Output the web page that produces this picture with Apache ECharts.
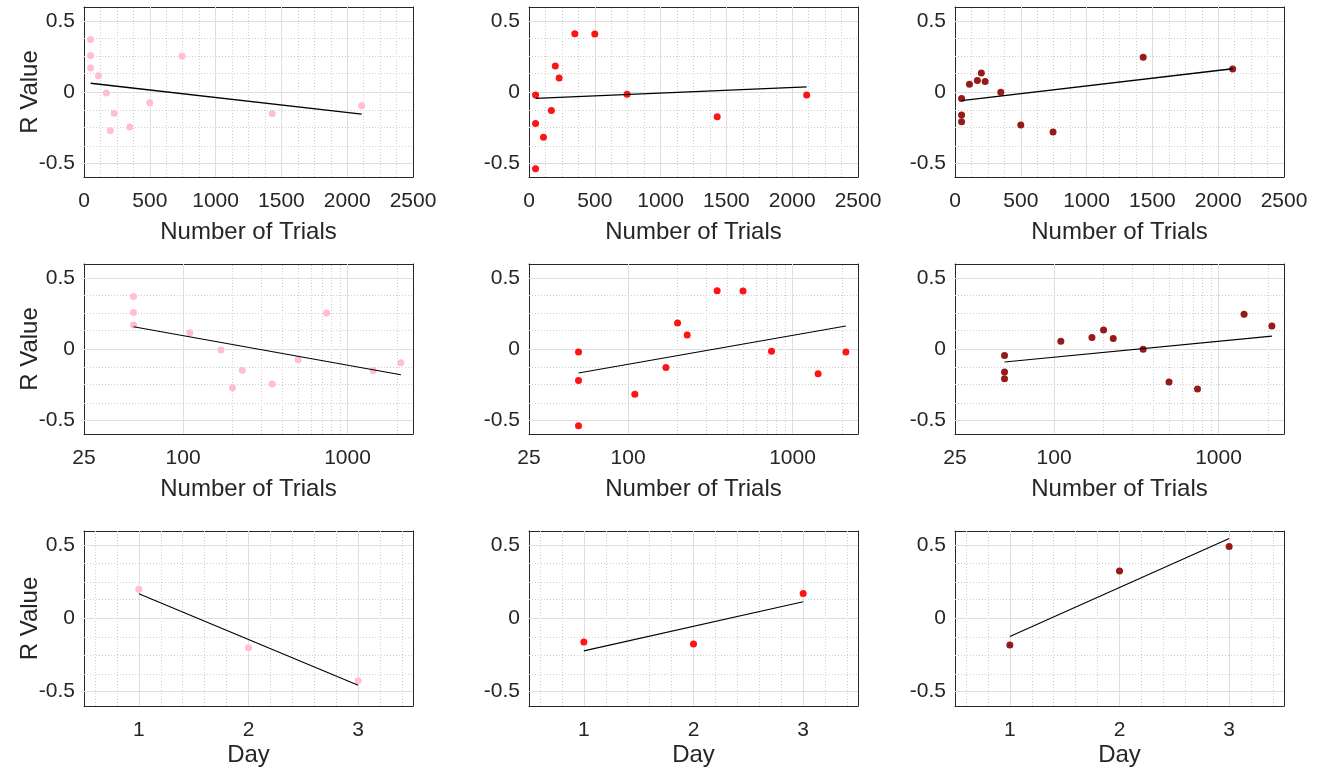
<!DOCTYPE html>
<html><head><meta charset="utf-8">
<script src="https://cdn.jsdelivr.net/npm/echarts@6/dist/echarts.min.js"></script>
<style>html,body{margin:0;padding:0;background:#fff}#c{width:1322px;height:768px}</style>
</head><body><div id="c"></div>
<script>
// ---- data ----
const trials = [50, 50, 50, 110, 170, 200, 229, 348, 500, 745, 1430, 2110];
const rPink = [0.370, 0.258, 0.170, 0.115, -0.007, -0.274, -0.150, -0.247, -0.075, 0.255, -0.152, -0.097];
const rRed  = [-0.021, -0.222, -0.542, -0.319, -0.130, 0.184, 0.099, 0.412, 0.409, -0.016, -0.174, -0.021];
const rDark = [-0.045, -0.162, -0.210, 0.055, 0.082, 0.135, 0.075, -0.002, -0.233, -0.282, 0.246, 0.163];

const fitTrials = [50, 2110];
const fitLinPink = [0.062, -0.156];
const fitLinRed  = [-0.045, 0.036];
const fitLinDark = [-0.061, 0.164];
const fitLogPink = [0.157, -0.182];
const fitLogRed  = [-0.169, 0.162];
const fitLogDark = [-0.092, 0.091];

const days = [1, 2, 3];
const dayPink = [0.200, -0.200, -0.427];
const dayRed  = [-0.161, -0.174, 0.172];
const dayDark = [-0.181, 0.326, 0.493];
const fitDays = [1, 3];
const fitDayPink = [0.170, -0.457];
const fitDayRed  = [-0.222, 0.115];
const fitDayDark = [-0.124, 0.548];

const linTicks = [0, 500, 1000, 1500, 2000, 2500];
const logTicks = [25, 100, 1000];
const dayTicks = [1, 2, 3];
const rTicks = [-0.5, 0, 0.5];

// ---- styling ----
const FONT = 'Liberation Sans, Arial, Helvetica, sans-serif';
const AX = '#262626';
const colors = ['#ffc0cb', '#ff1414', '#961a1a'];
const colLeft = [84, 529, 955];
const rowTop = [7, 264, 531];
const rowH = [170, 170, 175];
const W = 329;

const axisSpecs = {
  lin: {type: 'value', min: 0, max: 2500, ticks: linTicks, name: 'Number of Trials', nameGap: 43},
  log: {type: 'log', min: 25, max: 2500, ticks: logTicks, name: 'Number of Trials', nameGap: 43},
  day: {type: 'value', min: 0.5, max: 3.5, ticks: dayTicks, name: 'Day', nameGap: 37}
};

function minorX(kind) {
  const out = [];
  if (kind === 'lin') {
    for (let i = 0; i < linTicks.length - 1; i++) {
      const s = (linTicks[i + 1] - linTicks[i]) / 4;
      for (let k = 1; k < 4; k++) out.push(linTicks[i] + k * s);
    }
  } else if (kind === 'log') {
    [100, 1000].forEach(d => { for (let k = 2; k <= 9; k++) { const v = k * d; if (v < 2500) out.push(v); } });
  } else {
    for (let v = 0.6; v < 3.45; v += 0.2) {
      const r = Math.round(v * 10) / 10;
      if (Math.abs(r - Math.round(r)) > 1e-6) out.push(r);
    }
  }
  return out;
}
function minorY() {
  const out = [];
  for (let i = 0; i < rTicks.length - 1; i++) {
    const s = (rTicks[i + 1] - rTicks[i]) / 4;
    for (let k = 1; k < 4; k++) out.push(rTicks[i] + k * s);
  }
  return out;
}

const panels = [];
const kinds = ['lin', 'log', 'day'];
const yData = {
  lin: [rPink, rRed, rDark], log: [rPink, rRed, rDark], day: [dayPink, dayRed, dayDark]
};
const fitData = {
  lin: [fitLinPink, fitLinRed, fitLinDark], log: [fitLogPink, fitLogRed, fitLogDark], day: [fitDayPink, fitDayRed, fitDayDark]
};
kinds.forEach((kind, r) => {
  for (let c = 0; c < 3; c++) panels.push({r, c, kind});
});

const option = {animation: false, grid: [], xAxis: [], yAxis: [], series: []};
const fmt = v => String(v);

panels.forEach((p, i) => {
  const spec = axisSpecs[p.kind];
  option.grid.push({left: colLeft[p.c], top: rowTop[p.r], width: W, height: rowH[p.r], containLabel: false});
  const baseX = {
    gridIndex: i, type: spec.type, min: spec.min, max: spec.max,
    axisLine: {show: true, onZero: false, lineStyle: {color: AX, width: 1}},
    axisTick: {show: true, inside: true, length: 4, customValues: spec.ticks, lineStyle: {color: AX}},
    splitLine: {show: false}, minorTick: {show: false}, minorSplitLine: {show: false}
  };
  if (spec.type === 'log') baseX.logBase = 10;
  option.xAxis.push(Object.assign({}, baseX, {
    position: 'bottom',
    axisLabel: {show: true, customValues: spec.ticks, formatter: fmt, fontSize: 21, color: AX, fontFamily: FONT, margin: 14},
    name: spec.name, nameLocation: 'middle', nameGap: spec.nameGap, nameMoveOverlap: false,
    nameTextStyle: {fontSize: 24, color: AX, fontFamily: FONT}
  }));
  option.xAxis.push(Object.assign({}, baseX, {position: 'top', axisLabel: {show: false}}));
  const baseY = {
    gridIndex: i, type: 'value', min: -0.6, max: 0.6,
    axisLine: {show: true, onZero: false, lineStyle: {color: AX, width: 1}},
    axisTick: {show: true, inside: true, length: 4, customValues: rTicks, lineStyle: {color: AX}},
    splitLine: {show: false}
  };
  const yLeft = Object.assign({}, baseY, {
    position: 'left',
    axisLabel: {show: true, customValues: rTicks, formatter: fmt, fontSize: 21, color: AX, fontFamily: FONT, margin: 9}
  });
  if (p.c === 0) {
    Object.assign(yLeft, {name: 'R Value', nameLocation: 'middle', nameGap: 42, nameMoveOverlap: false,
      nameTextStyle: {fontSize: 24, color: AX, fontFamily: FONT}});
  }
  option.yAxis.push(yLeft);
  option.yAxis.push(Object.assign({}, baseY, {position: 'right', axisLabel: {show: false}}));

  const xi = 2 * i, yi = 2 * i;
  const xs = p.kind === 'day' ? days : trials;
  const ys = yData[p.kind][p.c];
  const fx = p.kind === 'day' ? fitDays : fitTrials;
  const fy = fitData[p.kind][p.c];

  const gridLines = [];
  spec.ticks.forEach(v => { if (v > spec.min && v < spec.max) gridLines.push({xAxis: v, lineStyle: {color: '#dfdfdf', type: 'solid', width: 1}}); });
  minorX(p.kind).forEach(v => gridLines.push({xAxis: v, lineStyle: {color: '#cfcfcf', type: [1, 2], width: 1}}));
  rTicks.forEach(v => gridLines.push({yAxis: v, lineStyle: {color: '#dfdfdf', type: 'solid', width: 1}}));
  minorY().forEach(v => gridLines.push({yAxis: v, lineStyle: {color: '#cfcfcf', type: [1, 2], width: 1}}));

  option.series.push({
    type: 'scatter', xAxisIndex: xi, yAxisIndex: yi, z: 5,
    symbol: 'circle', symbolSize: 7,
    itemStyle: {color: colors[p.c], opacity: 1},
    data: xs.map((x, k) => [x, ys[k]]),
    markLine: {silent: true, z: 1, symbol: ['none', 'none'], label: {show: false}, animation: false, data: gridLines}
  });
  option.series.push({
    type: 'line', xAxisIndex: xi, yAxisIndex: yi, z: 6,
    symbol: 'none', lineStyle: {color: '#000', width: p.kind === 'lin' ? 1.4 : 1.1},
    data: fx.map((x, k) => [x, fy[k]])
  });
});

const chart = echarts.init(document.getElementById('c'), null, {renderer: 'canvas'});
chart.setOption(option);
</script>
</body></html>
